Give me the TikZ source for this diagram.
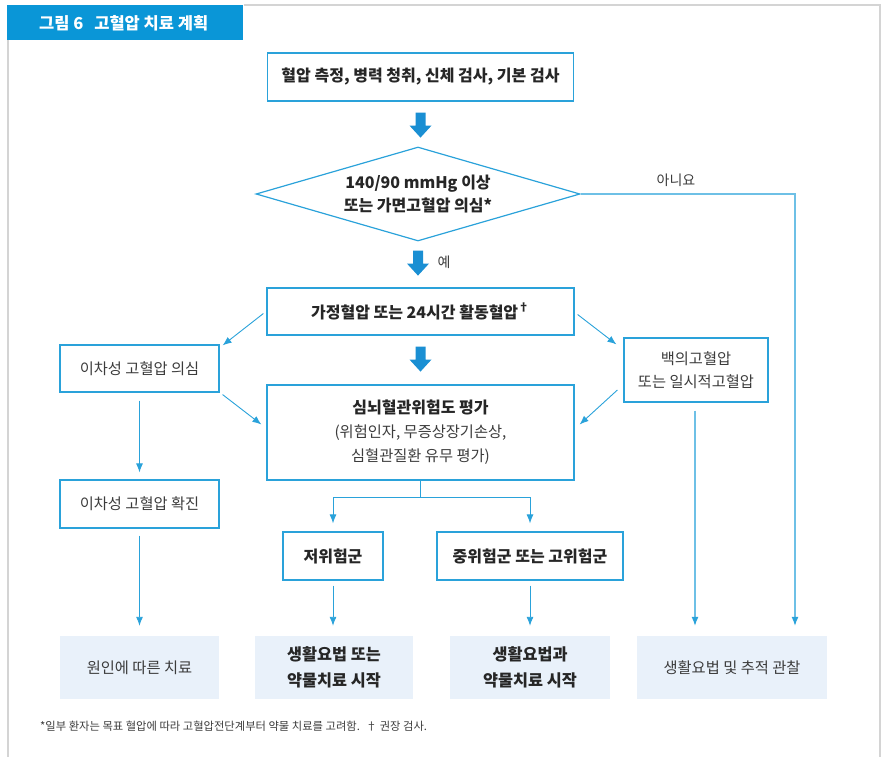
\documentclass[tikz,border=0pt]{standalone}
\usepackage{fontspec}
\setmainfont{Noto Sans CJK KR}
\usetikzlibrary{arrows.meta,shapes.geometric,calc}
\definecolor{bc}{HTML}{2AA2DA}
\definecolor{ba}{HTML}{1A8FD3}
\definecolor{ll}{HTML}{A6D8EF}
\definecolor{ml}{HTML}{6EC0E6}
\definecolor{tf}{HTML}{E9F1FA}
\definecolor{txt}{HTML}{262626}
\definecolor{txn}{HTML}{3C3C3C}
\definecolor{frame}{HTML}{D4D4D4}
\definecolor{title}{HTML}{0A96D7}
\tikzset{
  box/.style={draw=bc, line width=1.2pt, fill=white, align=center, inner sep=0pt, text=txn,
              font=\fontsize{15.3}{23}\selectfont},
  bbox/.style={box, text=txt, font=\fontsize{16}{23}\selectfont\bfseries},
  tbox/.style={fill=tf, align=center, inner sep=0pt, text=txn, font=\fontsize{15.3}{26}\selectfont},
  btbox/.style={tbox, text=txt, font=\fontsize{16.3}{26}\selectfont\bfseries},
  thinarrow/.style={draw=bc, line width=0.9pt, -{Latex[length=9pt,width=7pt]}},
  lightarrow/.style={draw=ml, line width=1.1pt, arrows={-{Latex[length=9pt,width=7pt,color=bc]}}},
}
% big block arrow whose top centre is at #1
\newcommand{\blockarrow}[1]{%
  \fill[ba] (#1) ++(-5,0) -- ++(10,0) -- ++(0,13) -- ++(6,0) -- ++(-11,12) -- ++(-11,-12) -- ++(6,0) -- cycle;}
\begin{document}
\begin{tikzpicture}[x=1pt,y=-1pt]
\useasboundingbox (0,0) rectangle (885,757);
% frame
\draw[frame, line width=1.5pt] (244,5) -- (880,5) -- (880,757);
\draw[frame, line width=1.5pt] (8,40) -- (8,757);
\node[fill=title, minimum width=236pt, minimum height=35pt, inner sep=0pt, anchor=north west] (tbar) at (7,5) {};
\node[anchor=west, text=white, font=\fontsize{16.5}{18}\selectfont\bfseries, inner sep=0pt] (ttext) at (39,23) {그림 6\hspace{11pt}고혈압 치료 계획};

% nodes
\node[bbox, minimum width=306pt, minimum height=48pt] (b1) at (420.5,77) {혈압 측정, 병력 청취, 신체 검사, 기본 검사};
\node[draw=bc, line width=1.2pt, shape=diamond, minimum width=324pt, minimum height=94pt, aspect=3.45,
      inner sep=0pt, align=center, text=txt, font=\fontsize{16}{23}\selectfont\bfseries] (dia) at (418,194)
      {140/90 mmHg 이상\\또는 가면고혈압 의심*};
\node[bbox, minimum width=307pt, minimum height=47pt] (b2) at (420.5,311.5) {가정혈압 또는 24시간 활동혈압\textsuperscript{†}};
\node[box, minimum width=159pt, minimum height=47pt] (sec1) at (139.5,368.5) {이차성 고혈압 의심};
\node[box, minimum width=144pt, minimum height=64pt] (wc) at (696,370) {백의고혈압\\또는 일시적고혈압};
\node[box, minimum width=307pt, minimum height=95pt, font=\fontsize{15.3}{24}\selectfont] (risk) at (420.5,432.5)
      {{\fontsize{16}{24}\selectfont\bfseries\color{txt}심뇌혈관위험도 평가}\\(위험인자, 무증상장기손상,\\심혈관질환 유무 평가)};
\node[box, minimum width=159pt, minimum height=48pt] (sec2) at (139.5,504) {이차성 고혈압 확진};
\node[bbox, minimum width=100pt, minimum height=48pt] (low) at (333,556) {저위험군};
\node[bbox, minimum width=186pt, minimum height=48pt] (mid) at (530,556) {중위험군 또는 고위험군};
\node[tbox, minimum width=159pt, minimum height=63pt] (t1) at (139.5,667.5) {원인에 따른 치료};
\node[btbox, minimum width=158pt, minimum height=63pt] (t2) at (334,667.5) {생활요법 또는\\약물치료 시작};
\node[btbox, minimum width=160pt, minimum height=63pt] (t3) at (530,667.5) {생활요법과\\약물치료 시작};
\node[tbox, minimum width=190pt, minimum height=63pt] (t4) at (732,667.5) {생활요법 및 추적 관찰};

% labels
\node[text=txn, font=\fontsize{14}{15}\selectfont, inner sep=0pt] (no) at (676,180) {아니요};
\node[text=txn, font=\fontsize{14}{15}\selectfont, inner sep=0pt] (yes) at (444,262) {예};
\node[anchor=west, text=txn, font=\fontsize{11.3}{13}\selectfont, inner sep=0pt] (fn) at (40,726)
      {*일부 환자는 목표 혈압에 따라 고혈압전단계부터 약물 치료를 고려함.\hspace{6pt}† 권장 검사.};

% big arrows
\blockarrow{[yshift=-11pt]b1.south}
\blockarrow{[yshift=-9pt]dia.south}
\blockarrow{[yshift=-11pt]b2.south}

% diagonal arrows
\draw[thinarrow] ([xshift=-3pt,yshift=-2pt]b2.west) -- ([xshift=3pt,yshift=-1pt]sec1.north east);
\draw[thinarrow] ([xshift=3pt,yshift=-2pt]sec1.south east) -- ([xshift=-5pt,yshift=8pt]risk.west);
\draw[thinarrow] ([xshift=3pt,yshift=-3pt]b2.east) -- ([xshift=-7pt,yshift=-7pt]wc.north west);
\draw[thinarrow] ([xshift=-6pt,yshift=-20pt]wc.west) -- ([xshift=5pt,yshift=8pt]risk.east);

% vertical arrows
\coordinate (s1a) at ([yshift=-8pt]sec1.south);
\draw[thinarrow] (s1a) -- ([yshift=7pt]sec2.north);
\coordinate (s2a) at ([yshift=-7pt]sec2.south);
\draw[thinarrow] (s2a) -- ([yshift=10pt]t1.north);

\coordinate (split) at ([yshift=-17pt]risk.south);
\draw[draw=bc, line width=0.9pt] (risk.south) -- (split);
\draw[thinarrow] (split) -| ([yshift=8pt]low.north);
\draw[thinarrow] (split) -| ([yshift=8pt]mid.north);

\draw[thinarrow] ([yshift=-5pt]low.south) -- ([yshift=10pt]t2.north -| low.south);
\draw[thinarrow] ([yshift=-5pt]mid.south) -- ([yshift=10pt]t3.north -| mid.south);

\coordinate (wcb) at ([xshift=-1pt,yshift=-8pt]wc.south);
\draw[lightarrow] (wcb) -- ([yshift=10pt]t4.north -| wcb);
\coordinate (noEnd) at ([yshift=10pt]t4.north -| 795,0);
\draw[lightarrow] (dia.east) -| (noEnd);
\end{tikzpicture}
\end{document}
